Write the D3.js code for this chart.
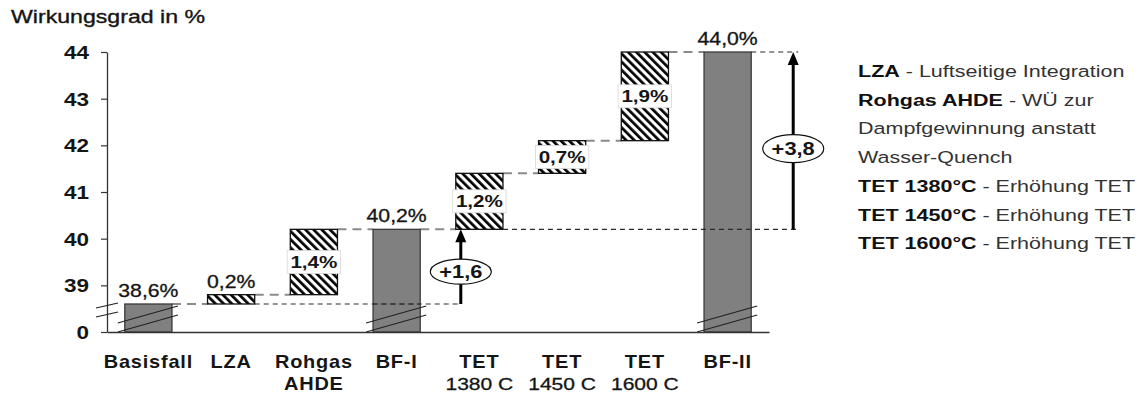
<!DOCTYPE html>
<html>
<head>
<meta charset="utf-8">
<script src="https://cdn.jsdelivr.net/npm/d3@7"></script>
<style>
  body { margin: 0; background: #fff; }
  svg { display: block; }
  text { font-family: "Liberation Sans", Arial, sans-serif; fill: #151515; }
</style>
</head>
<body>
<svg id="chart" width="1141" height="400"></svg>
<script>
// Waterfall of efficiency gains (Wirkungsgrad in %)
const categories = ["Basisfall", "LZA", "Rohgas\nAHDE", "BF-I", "TET\n1380 C", "TET\n1450 C", "TET\n1600 C", "BF-II"];
const kinds = ["total", "step", "step", "total", "step", "step", "step", "total"];
const values = [38.6, 0.2, 1.4, 40.2, 1.2, 0.7, 1.9, 44.0];
const valueLabels = ["38,6%", "0,2%", "1,4%", "40,2%", "1,2%", "0,7%", "1,9%", "44,0%"];

const yTicks = [38, 39, 40, 41, 42, 43, 44];
const yTickLabels = ["0", "39", "40", "41", "42", "43", "44"];

const gainFrom = [38.6, 40.2];
const gainTo = [40.2, 44.0];
const gainLabels = ["+1,6", "+3,8"];

const legendBold = ["LZA", "Rohgas AHDE", "", "", "TET 1380°C", "TET 1450°C", "TET 1600°C"];
const legendRest = [" - Luftseitige Integration", " - WÜ zur", "Dampfgewinnung anstatt", "Wasser-Quench",
                    " - Erhöhung TET", " - Erhöhung TET", " - Erhöhung TET"];

const titleText = "Wirkungsgrad in %";

const svg = d3.select("#chart");

const x = d3.scaleBand().domain(categories).range([107, 769]).paddingInner(0.43).paddingOuter(0.215);
const y = d3.scaleLinear().domain([38, 44]).range([332, 52]);
const bw = x.bandwidth();

// waterfall layout
let running = 0;
const bars = categories.map((c, i) => {
  let lo, hi;
  if (kinds[i] === "total") { lo = 38; hi = values[i]; running = values[i]; }
  else { lo = running; hi = running + values[i]; running = hi; }
  return { cat: c, kind: kinds[i], lo, hi, label: valueLabels[i], i };
});

const defs = svg.append("defs");
const pat = defs.append("pattern").attr("id", "hatch")
  .attr("patternUnits", "userSpaceOnUse").attr("width", 5.8).attr("height", 5.8)
  .attr("patternTransform", "rotate(-45)");
pat.append("rect").attr("width", 5.8).attr("height", 5.8).attr("fill", "#fff");
pat.append("rect").attr("width", 2.7).attr("height", 5.8).attr("fill", "#000");

// text drawn with a slight horizontal stretch
function stretchedText(g, px, py, str, size, weight, anchor, sx) {
  return g.append("text")
    .attr("transform", `translate(${px},${py}) scale(${sx || 1.25},1)`)
    .attr("text-anchor", anchor || "start")
    .style("font-size", size + "px")
    .style("font-weight", weight || "normal")
    .text(str);
}

// title
stretchedText(svg, 11, 23, titleText, 18.5, "normal", "start", 1.25)
  .style("stroke", "#151515").style("stroke-width", 0.35);

// connectors between consecutive bars
const connG = svg.append("g");
for (let i = 0; i < bars.length - 1; i++) {
  const a = bars[i], b = bars[i + 1];
  const level = a.hi;
  connG.append("line")
    .attr("x1", x(a.cat) + bw).attr("x2", x(b.cat))
    .attr("y1", y(level)).attr("y2", y(level))
    .attr("stroke", "#8a8a8a").attr("stroke-width", 2).attr("stroke-dasharray", "9,6");
}

// bars
const barG = svg.append("g");
bars.forEach(b => {
  barG.append("rect")
    .attr("x", x(b.cat)).attr("width", bw)
    .attr("y", y(b.hi)).attr("height", y(b.lo) - y(b.hi))
    .attr("fill", b.kind === "total" ? "#808080" : "url(#hatch)")
    .attr("stroke", b.kind === "total" ? "#3a3a3a" : "#111")
    .attr("stroke-width", 1.3);
});

// axis break marks on total bars
bars.filter(b => b.kind === "total").forEach(b => {
  const x0 = x(b.cat) - 7, x1 = x(b.cat) + bw + 6;
  [0, 9].forEach(off => {
    barG.append("line")
      .attr("x1", x0).attr("y1", y(38) - off)
      .attr("x2", x1).attr("y2", y(38) - off - 17)
      .attr("stroke", "#222").attr("stroke-width", 1.2);
  });
});

// gain arrows and reference levels
const arrowX = [x(categories[4]) + 5, x(categories[7]) + bw + 42];
const refG = svg.append("g");
const refs = [
  { v: 38.6, x1: x(categories[1]) + bw, x2: arrowX[0] },
  { v: 40.2, x1: x(categories[4]) + bw, x2: arrowX[1] + 5 },
  { v: 44.0, x1: x(categories[7]) + bw, x2: arrowX[1] + 5 }
];
refs.forEach(r => {
  refG.append("line")
    .attr("x1", r.x1).attr("x2", r.x2).attr("y1", y(r.v)).attr("y2", y(r.v))
    .attr("stroke", "#2a2a2a").attr("stroke-width", 1.2).attr("stroke-dasharray", "5,4");
});
// base level continues across the BF-I column
refG.append("line")
  .attr("x1", x(categories[3])).attr("x2", x(categories[3]) + bw)
  .attr("y1", y(38.6)).attr("y2", y(38.6))
  .attr("stroke", "#2a2a2a").attr("stroke-width", 1.2).attr("stroke-dasharray", "5,4");

const ry = [12.5, 14];
gainFrom.forEach((f, k) => {
  const ax = arrowX[k];
  const top = y(gainTo[k]), bot = y(f);
  refG.append("line").attr("x1", ax).attr("x2", ax).attr("y1", bot).attr("y2", top + 11)
    .attr("stroke", "#000").attr("stroke-width", 3);
  refG.append("path")
    .attr("d", `M${ax},${top} L${ax - 5.5},${top + 13} L${ax + 5.5},${top + 13} Z`)
    .attr("fill", "#000");
  const cy = (top + bot) / 2 + (k === 0 ? 5 : 8);
  refG.append("ellipse").attr("cx", ax).attr("cy", cy).attr("rx", 30.5).attr("ry", ry[k])
    .attr("fill", "#fff").attr("stroke", "#111").attr("stroke-width", 1.2);
  stretchedText(refG, ax, cy + 6.3, gainLabels[k], 17.5, "bold", "middle", 1.25);
});

// value labels
const labG = svg.append("g");
bars.forEach(b => {
  const cx = x(b.cat) + bw / 2;
  const hPx = y(b.lo) - y(b.hi);
  if (b.kind === "total" || hPx < 20) {
    stretchedText(labG, cx, y(b.hi) - 7, b.label, 18, "normal", "middle", 1.18)
      .style("stroke", "#151515").style("stroke-width", 0.3);
  } else {
    const cy = (y(b.lo) + y(b.hi)) / 2;
    const t = stretchedText(labG, cx, cy + 6, b.label, 16.5, "bold", "middle", 1.25);
    const w = t.node().getBBox().width * 1.25 + 6;
    labG.insert("rect", () => t.node())
      .attr("x", cx - w / 2).attr("y", cy - 11.5).attr("width", w).attr("height", 23)
      .attr("fill", "#fff").attr("stroke", "#d8d8d8").attr("stroke-width", 0.8);
  }
});

// y axis
const yAxis = d3.axisLeft(y).tickValues(yTicks)
  .tickFormat((d, i) => yTickLabels[i]).tickSize(6).tickSizeOuter(0);
const yg = svg.append("g").attr("transform", "translate(107,0)").call(yAxis);
yg.select(".domain").attr("stroke", "#333").attr("stroke-width", 1.3);
yg.selectAll(".tick line").attr("stroke", "#333").attr("stroke-width", 1.2);
yg.selectAll(".tick text")
  .attr("x", -18 / 1.25).attr("dy", "0.36em")
  .attr("transform", "scale(1.25,1)")
  .style("font-size", "18px").style("font-weight", "bold")
  .style("font-family", '"Liberation Sans", Arial, sans-serif').attr("fill", "#151515");

// break marks across the y axis
[0, 9].forEach(off => {
  svg.append("line").attr("x1", 96).attr("y1", y(38) - 15 - off)
    .attr("x2", 118).attr("y2", y(38) - 20 - off)
    .attr("stroke", "#222").attr("stroke-width", 1.2);
});

// x axis
const xAxis = d3.axisBottom(x).tickSize(0).tickSizeOuter(0).tickFormat("");
const xg = svg.append("g").attr("transform", `translate(0,${y(38)})`).call(xAxis);
xg.select(".domain").attr("stroke", "#333").attr("stroke-width", 1.3);

// category labels: names in bold, temperature lines in regular weight
const catG = svg.append("g");
categories.forEach(c => {
  const lines = c.split("\n");
  lines.forEach((ln, j) => {
    const numeric = /^\d/.test(ln);
    const t = stretchedText(catG, x(c) + bw / 2, 368 + j * 22, ln,
      numeric ? 17 : 17.5, numeric ? "normal" : "bold", "middle", numeric ? 1.24 : 1.14);
    if (numeric) t.style("stroke", "#151515").style("stroke-width", 0.3);
    else t.style("letter-spacing", "0.7px");
  });
});

// legend
const legG = svg.append("g");
legendBold.forEach((bTxt, i) => {
  const t = legG.append("text")
    .attr("transform", `translate(858,${77 + i * 28.7}) scale(1.265,1)`)
    .style("font-size", "17px");
  if (bTxt) t.append("tspan").style("font-weight", "bold").attr("fill", "#111").text(bTxt);
  t.append("tspan").attr("fill", "#333").text(legendRest[i]);
});
</script>
</body>
</html>
